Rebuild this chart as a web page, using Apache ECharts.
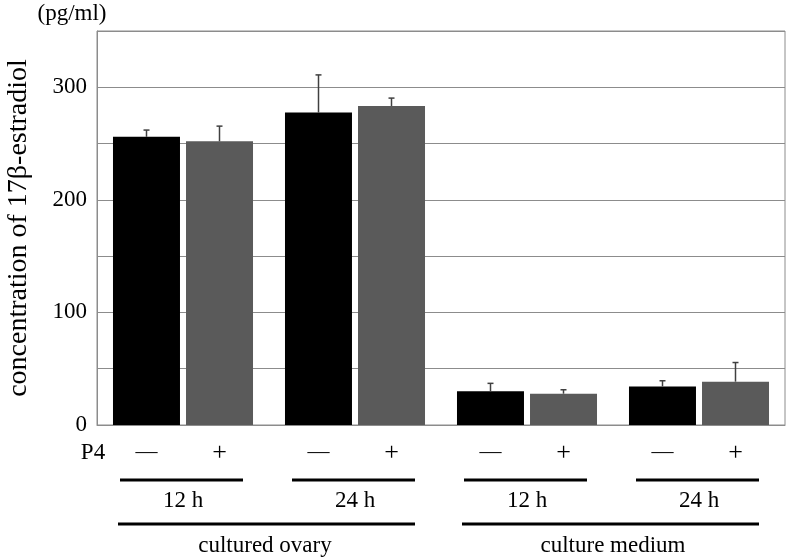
<!DOCTYPE html>
<html>
<head>
<meta charset="utf-8">
<script src="https://cdn.jsdelivr.net/npm/echarts@6/dist/echarts.min.js"></script>
<style>
  html, body { margin: 0; padding: 0; background: #fff; }
  #chart { width: 793px; height: 558px; }
</style>
</head>
<body>
<div id="chart"></div>
<script>
// groups: cultured ovary 12 h / 24 h, culture medium 12 h / 24 h
const groups = ['ovary-12h', 'ovary-24h', 'medium-12h', 'medium-24h'];
const timeLabels = ['12 h', '24 h', '12 h', '24 h'];
const sourceLabels = ['cultured ovary', 'culture medium'];
// P4 minus (black) and P4 plus (gray)
const minusP4 = [256, 277.5, 30, 34.3];
const plusP4 = [252, 283.4, 27.8, 38.5];
const minusErr = [6, 33.5, 7, 5];
const plusErr = [13.5, 7, 3.5, 17];
const yTicks = [0, 100, 200, 300];

const FONT = '"Liberation Serif", "DejaVu Serif", serif';
const BAR_W = 67;
const OFFSET = 36.5; // half of bar width + gap

const chart = echarts.init(document.getElementById('chart'));

function errSeries(vals, errs, dx) {
  return {
    type: 'custom',
    z: 5,
    renderItem: function (params, api) {
      const top = api.coord([api.value(0), api.value(1) + api.value(2)]);
      const base = api.coord([api.value(0), api.value(1)]);
      const x = base[0] + dx;
      const style = { stroke: '#404040', lineWidth: 1.5 };
      return {
        type: 'group',
        children: [
          { type: 'line', shape: { x1: x, y1: base[1], x2: x, y2: top[1] }, style: style },
          { type: 'line', shape: { x1: x - 3, y1: top[1], x2: x + 3, y2: top[1] }, style: style }
        ]
      };
    },
    data: vals.map((v, i) => [i, v, errs[i]])
  };
}

const option = {
  animation: false,
  grid: {
    left: 97, right: 8, top: 31, bottom: 133,
    outerBoundsMode: 'none',
    containLabel: false,
    show: true, borderColor: '#8c8c8c', borderWidth: 1
  },
  xAxis: {
    type: 'category',
    data: groups,
    axisLine: { lineStyle: { color: '#8c8c8c', width: 1 } },
    axisTick: { show: false },
    axisLabel: { show: false }
  },
  yAxis: {
    type: 'value',
    min: 0, max: 350, interval: 50,
    name: 'concentration of 17β-estradiol',
    nameLocation: 'middle',
    nameGap: 64,
    nameTextStyle: { fontFamily: FONT, fontSize: 28, color: '#000' },
    axisLine: { show: true, lineStyle: { color: '#8c8c8c' } },
    axisTick: { show: false },
    axisLabel: {
      fontFamily: FONT, fontSize: 23, color: '#000', margin: 10,
      formatter: v => (yTicks.indexOf(v) >= 0 ? String(v) : '')
    },
    splitLine: { lineStyle: { color: '#8c8c8c', width: 1 } }
  },
  series: [
    {
      type: 'bar', name: 'P4 -', data: minusP4,
      barWidth: BAR_W, barGap: '9%',
      itemStyle: { color: '#000000' }
    },
    {
      type: 'bar', name: 'P4 +', data: plusP4,
      barWidth: BAR_W,
      itemStyle: { color: '#5a5a5a' }
    },
    errSeries(minusP4, minusErr, -OFFSET),
    errSeries(plusP4, plusErr, OFFSET)
  ]
};

chart.setOption(option);

// annotations under the axis, placed from the category positions
const centers = groups.map((g, i) => chart.convertToPixel({ xAxisIndex: 0 }, i));
const txt = (x, y, s, size) => ({
  type: 'text', x: x, y: y,
  style: { text: s, fontFamily: FONT, fontSize: size || 23, fill: '#000', align: 'center', verticalAlign: 'middle' }
});
const hline = (x1, x2, y) => ({
  type: 'line', shape: { x1: x1, y1: y, x2: x2, y2: y },
  style: { stroke: '#000', lineWidth: 3 }
});

const graphics = [
  txt(72, 14, '(pg/ml)', 23),
  txt(93, 453, 'P4', 23)
];
centers.forEach((c, i) => {
  graphics.push(txt(c - OFFSET, 452, '—', 22));
  graphics.push(txt(c + OFFSET, 453, '+', 26));
  graphics.push(hline(c - 63, c + 60, 480));
  graphics.push(txt(c, 501, timeLabels[i]));
});
[[0, 1], [2, 3]].forEach((pair, k) => {
  const a = centers[pair[0]], b = centers[pair[1]];
  graphics.push(hline(a - 65, b + 60, 524));
  graphics.push(txt((a + b) / 2 - 4 * (1 - k), 546, sourceLabels[k]));
});

chart.setOption({ graphic: graphics });
</script>
</body>
</html>
